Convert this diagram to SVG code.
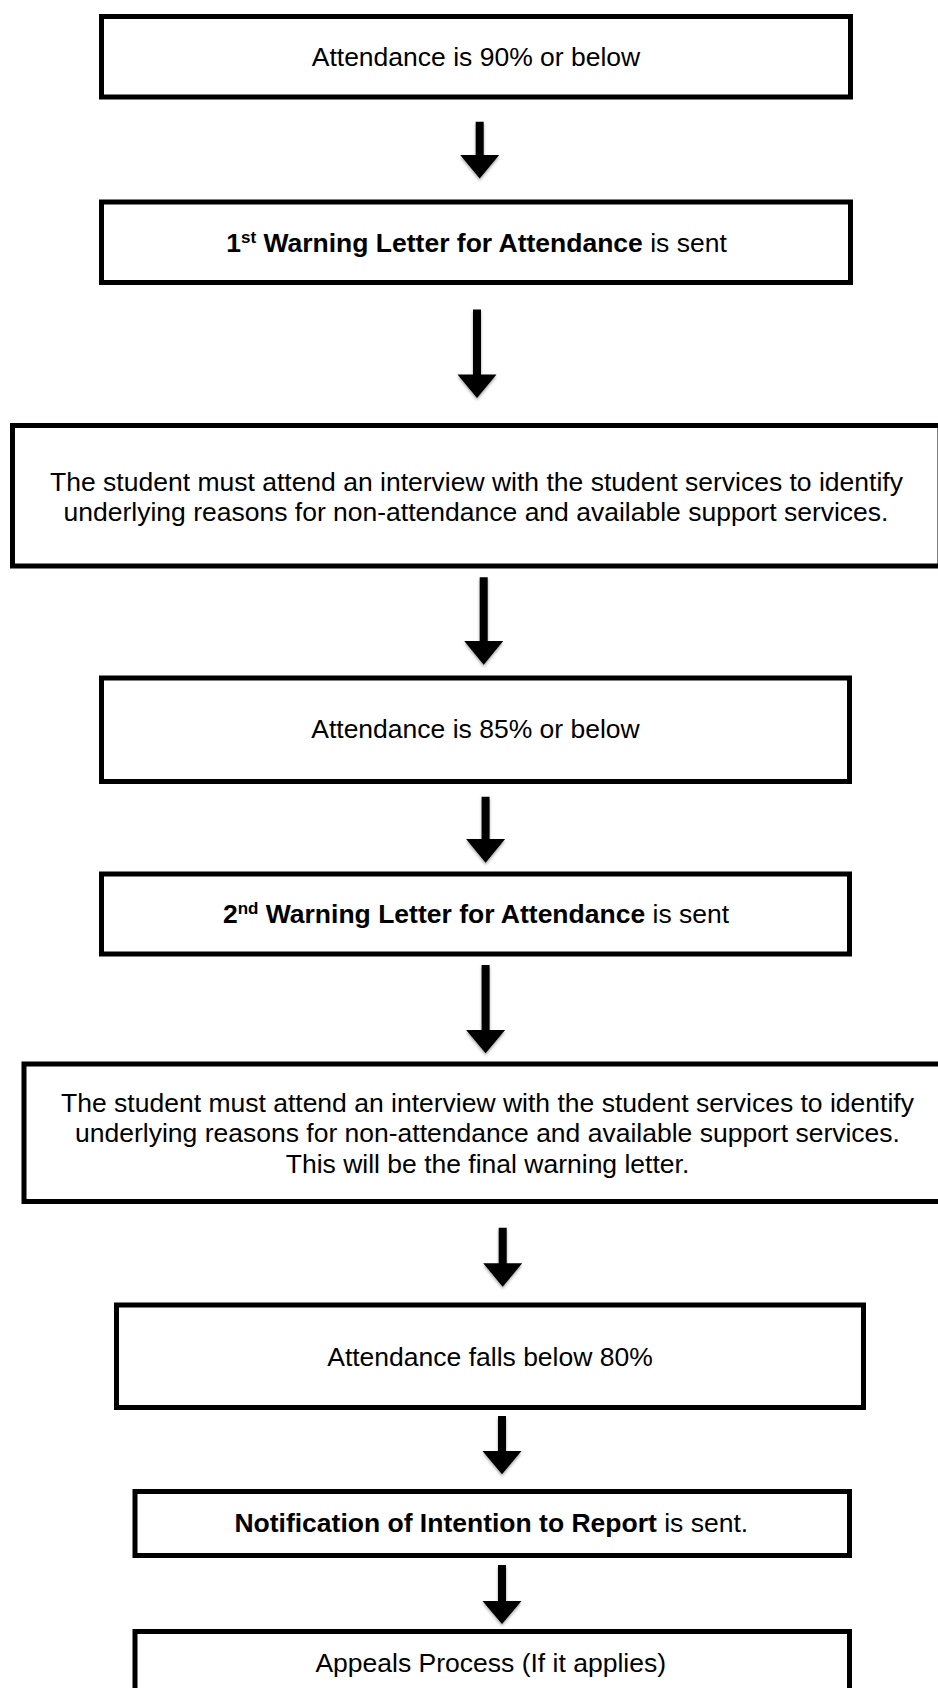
<svg xmlns="http://www.w3.org/2000/svg" width="938" height="1688" viewBox="0 0 938 1688">
  <style>
    .box { fill: #ffffff; stroke: #000000; stroke-width: 5; }
    .t { font-family: "Liberation Sans", Arial, Helvetica, sans-serif; font-size: 26.5px; fill: #000000; text-anchor: middle; }
    .b { font-weight: bold; }
    .sup { font-size: 17px; font-weight: bold; }
    .arrow { fill: #000000; filter: url(#shadow); }
  </style>
  <defs>
    <filter id="shadow" x="-50%" y="-20%" width="200%" height="160%">
      <feDropShadow dx="0" dy="2" stdDeviation="1.5" flood-color="#000000" flood-opacity="0.35"/>
    </filter>
  </defs>
  <rect width="938" height="1688" fill="#ffffff"/>

  <g id="node1">
    <rect class="box" x="101.5" y="16.5" width="749" height="80.5"/>
    <text class="t" x="476" y="66">Attendance is 90% or below</text>
  </g>

  <g id="node2">
    <rect class="box" x="101.5" y="202" width="749" height="80.5"/>
    <text class="t" x="476.5" y="251.5"><tspan class="b">1</tspan><tspan class="sup" dy="-9">st</tspan><tspan class="b" dy="9"> Warning Letter for Attendance</tspan> is sent</text>
  </g>

  <g id="node3">
    <rect class="box" x="12.5" y="425.5" width="927.5" height="140.5"/>
    <text class="t" x="476.5" y="491">The student must attend an interview with the student services to identify</text>
    <text class="t" x="476" y="521">underlying reasons for non-attendance and available support services.</text>
  </g>

  <g id="node4">
    <rect class="box" x="101.5" y="678" width="748" height="103.5"/>
    <text class="t" x="475.5" y="738.3">Attendance is 85% or below</text>
  </g>

  <g id="node5">
    <rect class="box" x="101.5" y="874" width="748" height="80"/>
    <text class="t" x="476" y="923.3"><tspan class="b">2</tspan><tspan class="sup" dy="-9">nd</tspan><tspan class="b" dy="9"> Warning Letter for Attendance</tspan> is sent</text>
  </g>

  <g id="node6">
    <rect class="box" x="24" y="1064" width="927" height="137.5"/>
    <text class="t" x="487.5" y="1111.5">The student must attend an interview with the student services to identify</text>
    <text class="t" x="487.5" y="1142">underlying reasons for non-attendance and available support services.</text>
    <text class="t" x="487.5" y="1172.7">This will be the final warning letter.</text>
  </g>

  <g id="node7">
    <rect class="box" x="116.5" y="1305" width="747" height="102.5"/>
    <text class="t" x="490" y="1366">Attendance falls below 80%</text>
  </g>

  <g id="node8">
    <rect class="box" x="135" y="1491.5" width="714.5" height="64"/>
    <text class="t" x="491.3" y="1531.7"><tspan class="b">Notification of Intention to Report</tspan> is sent.</text>
  </g>

  <g id="node9">
    <rect class="box" x="135" y="1631.5" width="714.5" height="80"/>
    <text class="t" x="490.7" y="1672.3">Appeals Process (If it applies)</text>
  </g>

  <g id="connectors">
    <path class="arrow" d="M475.7,121.7 H483.7 V155 H499.2 L479.7,178.5 L460.2,155 H475.7 Z"/>
    <path class="arrow" d="M473,309.5 H481 V374.5 H496.5 L477,398 L457.5,374.5 H473 Z"/>
    <path class="arrow" d="M479.7,577.3 H487.7 V641 H503.2 L483.7,664.8 L464.2,641 H479.7 Z"/>
    <path class="arrow" d="M481.6,796.7 H489.6 V839 H505.1 L485.6,862.7 L466.1,839 H481.6 Z"/>
    <path class="arrow" d="M481.6,965 H489.6 V1030 H505.1 L485.6,1053.3 L466.1,1030 H481.6 Z"/>
    <path class="arrow" d="M498.7,1227.7 H506.7 V1263.3 H522.2 L502.7,1286.7 L483.2,1263.3 H498.7 Z"/>
    <path class="arrow" d="M498,1416 H506 V1451 H521.5 L502,1474.3 L482.5,1451 H498 Z"/>
    <path class="arrow" d="M498,1565 H506 V1601 H521.5 L502,1624 L482.5,1601 H498 Z"/>
  </g>
</svg>
